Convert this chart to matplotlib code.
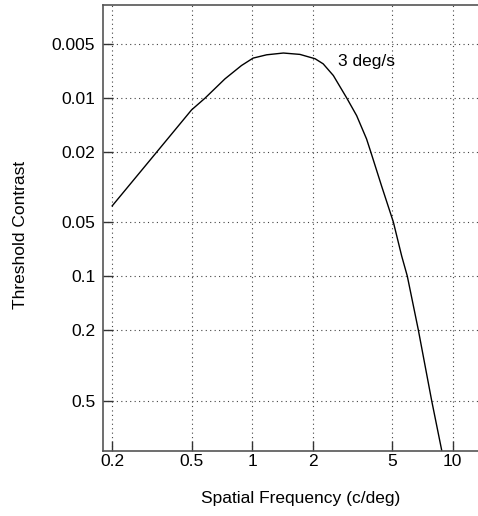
import numpy as np
import matplotlib
matplotlib.use("Agg")
from matplotlib import pyplot as plt

plt.rcParams['font.family'] = ['Liberation Sans', 'DejaVu Sans']
plt.rcParams['font.size'] = 12.5

# curve (spatial frequency c/deg, threshold contrast)
freq = [0.2, 0.333, 0.498, 0.581, 0.731, 0.884, 1.01, 1.18, 1.43, 1.73, 2.06,
        2.26, 2.54, 2.96, 3.32, 3.72, 3.91, 4.42, 5.06, 5.57, 5.94, 6.74, 7.86,
        8.81, 9.0]
contrast = [0.0404, 0.0202, 0.01168, 0.01004, 0.00782, 0.00658, 0.00598, 0.00573,
            0.0056, 0.0057, 0.00603, 0.00644, 0.00749, 0.01, 0.01258, 0.017,
            0.0202, 0.0312, 0.0497, 0.0772, 0.1, 0.2, 0.5, 0.944, 1.13]

xticks = [0.2, 0.5, 1, 2, 5, 10]
xticklabels = ['0.2', '0.5', '1', '2', '5', '10']
yticks = [0.005, 0.01, 0.02, 0.05, 0.1, 0.2, 0.5]
yticklabels = ['0.005', '0.01', '0.02', '0.05', '0.1', '0.2', '0.5']

W, H = 478, 516
fig = plt.figure(figsize=(W / 100, H / 100), dpi=100)
left, right, top, bottom = 103, 480, 5, 451
ax = fig.add_axes([left / W, 1 - bottom / H, (right - left) / W, (bottom - top) / H])

ax.plot(freq, contrast, color='black', lw=1.0)
ax.set_xscale('log')
ax.set_yscale('log')
ax.set_xlim(0.18, 13.7)
ax.set_ylim(0.96, 0.00301)

ax.set_xticks(xticks)
ax.set_xticklabels(xticklabels)
ax.set_yticks(yticks)
ax.set_yticklabels(yticklabels)
ax.minorticks_off()
ax.tick_params(direction='in', length=7, width=1, color='#333333', labelsize=12.5)
ax.tick_params(axis='x', pad=2.5)
ax.tick_params(axis='y', pad=5.5)

ax.grid(True, which='major', linestyle=(0, (1, 3)), color='#444444', lw=0.8)
for s in ax.spines.values():
    s.set_color('#555555')
    s.set_linewidth(1.2)
ax.spines['right'].set_visible(False)

ax.text(2.68, 0.00626, '3 deg/s', fontsize=12.5, va='center', ha='left')

fig.text(301 / W, 1 - 499 / H, 'Spatial Frequency (c/deg)', ha='center', va='center')
fig.text(21 / W, 1 - 235 / H, 'Threshold Contrast', ha='center', va='center', rotation=90)

fig.savefig('out.png', dpi=100)
